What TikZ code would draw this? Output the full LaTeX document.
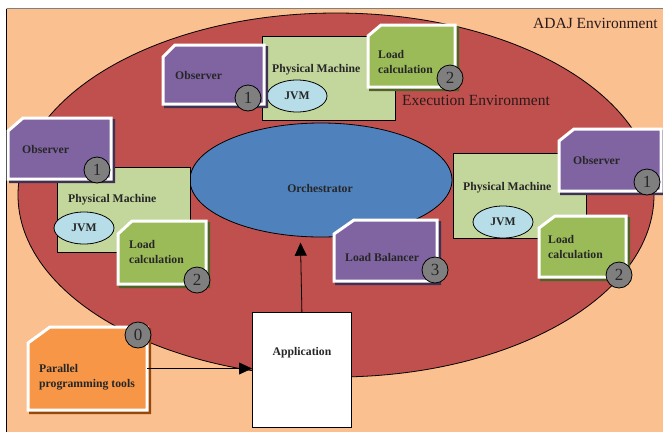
\documentclass[tikz,border=0pt]{standalone}
\usepackage{fontspec}
\setmainfont{Liberation Serif}
\usetikzlibrary{shapes.geometric,arrows.meta,fit}
\definecolor{envpeach}{HTML}{FAC090}
\definecolor{envred}{HTML}{C0504D}
\definecolor{orchblue}{HTML}{4F81BD}
\definecolor{pmgreen}{HTML}{C3D69B}
\definecolor{lcgreen}{HTML}{9BBB59}
\definecolor{lcshadow}{HTML}{4F6228}
\definecolor{obspurple}{HTML}{8064A2}
\definecolor{obsshadow}{HTML}{3F3151}
\definecolor{pptorange}{HTML}{F79646}
\definecolor{pptshadow}{HTML}{984807}
\definecolor{jvmblue}{HTML}{B7DEE8}
\definecolor{numgray}{HTML}{7F7F7F}
\definecolor{txt}{HTML}{262626}
\definecolor{envtext}{HTML}{2A1A1A}
% chamfered box: name, x1, y1, x2, y2, cut-x, cut-y, fill, shadow
\newcommand\cbox[9]{%
  \begin{scope}[shift={(2.5,2.5)}]
    \path[fill=#9, draw=#9, line width=3pt, line join=miter]
      (#2,{#3+#7}) -- ({#2+#6},#3) -- (#4,#3) -- (#4,#5) -- (#2,#5) -- cycle;
  \end{scope}
  \path[fill=#8, draw=white, line width=3pt, line join=miter]
      (#2,{#3+#7}) -- ({#2+#6},#3) -- (#4,#3) -- (#4,#5) -- (#2,#5) -- cycle;
  \node[inner sep=0pt, outer sep=0pt, fit={(#2,#3) (#4,#5)}] (#1) {};
}
\begin{document}
\begin{tikzpicture}[x=1pt,y=-1pt,
  lbl/.style={font=\bfseries\fontsize{11.7}{14.5}\selectfont, text=txt, inner sep=0pt, align=left},
  envtxt/.style={font=\fontsize{15.5}{18}\selectfont, text=envtext, inner sep=0pt},
  num/.style={circle, draw=black, line width=0.8pt, fill=numgray, minimum size=26pt, inner sep=0pt, font=\fontsize{17}{17}\selectfont, text=txt},
  pmbox/.style={draw=black, line width=0.8pt, fill=pmgreen, inner sep=0pt, anchor=north west},
  jvm/.style={ellipse, draw=black, line width=0.8pt, fill=jvmblue, minimum width=60pt, minimum height=32pt, inner sep=0pt, font=\bfseries\fontsize{11.7}{14}\selectfont, text=txt},
  conn/.style={line width=0.8pt, -{Triangle[length=13pt,width=12pt]}}
]
\useasboundingbox (0,0) rectangle (663,432);
% ADAJ environment
\fill[envpeach] (6,8) rectangle (663,432);
\draw[black, line width=1pt] (6.5,432) -- (6.5,8.5);
\draw[gray, line width=1pt] (6.5,8.5) -- (663,8.5);
\node[envtxt, anchor=base west] (adaj) at (533,28) {ADAJ Environment};
% execution environment
\node[ellipse, draw=black, line width=0.8pt, fill=envred, minimum width=636pt, minimum height=364pt, inner sep=0pt] (exec) at (336,195) {};
\node[envtxt, anchor=base west] (execT) at (402,105) {Execution Environment};
% orchestrator
\node[ellipse, draw=black, line width=0.8pt, fill=orchblue, minimum width=262pt, minimum height=114pt, inner sep=0pt] (orch) at (321,180) {};
\node[lbl] (orchT) at (320,188) {Orchestrator};
% physical machines
\node[pmbox, minimum width=133pt, minimum height=84pt] (pmT) at (262,36) {};
\node[lbl, anchor=west] (pmTt) at (272,70) {Physical Machine};
\node[jvm] (jvmT) at (297,96) {JVM};
\node[pmbox, minimum width=133pt, minimum height=85pt] (pmL) at (57,167) {};
\node[lbl, anchor=west] (pmLt) at (68,200) {Physical Machine};
\node[jvm] (jvmL) at (84,228) {JVM};
\node[pmbox, minimum width=133pt, minimum height=85pt] (pmR) at (453,153) {};
\node[lbl, anchor=west] (pmRt) at (463,188) {Physical Machine};
\node[jvm] (jvmR) at (503,222) {JVM};
% observers
\cbox{obsT}{163}{45}{264}{104}{12}{12}{obspurple}{obsshadow}
\node[lbl, anchor=west] (obsTt) at (175,75) {Observer};
\node[num] (nObsT) at (248,98) {1};
\cbox{obsL}{8}{118}{111}{179}{15}{13}{obspurple}{obsshadow}
\node[lbl, anchor=west] (obsLt) at (22,149) {Observer};
\node[num] (nObsL) at (97,170) {1};
\cbox{obsR}{559}{129}{661}{191}{15}{12}{obspurple}{obsshadow}
\node[lbl, anchor=west] (obsRt) at (573,160) {Observer};
\node[num] (nObsR) at (647,182) {1};
% load calculation
\cbox{lcT}{368}{25}{455}{87}{13}{11}{lcgreen}{lcshadow}
\node[lbl, anchor=west] (lcTt) at (378,62) {Load\\calculation};
\node[num] (nLcT) at (450,78) {2};
\cbox{lcL}{118}{221}{206}{284}{14}{13}{lcgreen}{lcshadow}
\node[lbl, anchor=west] (lcLt) at (129,252) {Load\\calculation};
\node[num] (nLcL) at (197,280) {2};
\cbox{lcR}{539}{216}{626}{277}{16}{12}{lcgreen}{lcshadow}
\node[lbl, anchor=west] (lcRt) at (548,247) {Load\\calculation};
\node[num] (nLcR) at (619,275) {2};
% load balancer
\cbox{lb}{334}{220}{437}{281}{20}{14}{obspurple}{obsshadow}
\node[lbl, anchor=west] (lbt) at (345,257) {Load Balancer};
\node[num] (nLb) at (435,270) {3};
% parallel programming tools
\cbox{ppt}{28}{327}{147}{410}{22}{16}{pptorange}{pptshadow}
\node[lbl, anchor=west] (pptt) at (39,377) {Parallel\\programming tools};
\node[num] (nPpt) at (138,335) {0};
% application
\node[draw=black, line width=0.8pt, fill=white, minimum width=99pt, minimum height=115pt, inner sep=0pt, anchor=north west] (app) at (252,312) {};
\node[lbl] (appT) at (302,353) {Application};
% connectors
\draw[conn] (ppt.east) -- (ppt.east -| app.west);
\draw[conn, shorten >=6pt] (app.north) -- (orch.-110);
\end{tikzpicture}
\end{document}
